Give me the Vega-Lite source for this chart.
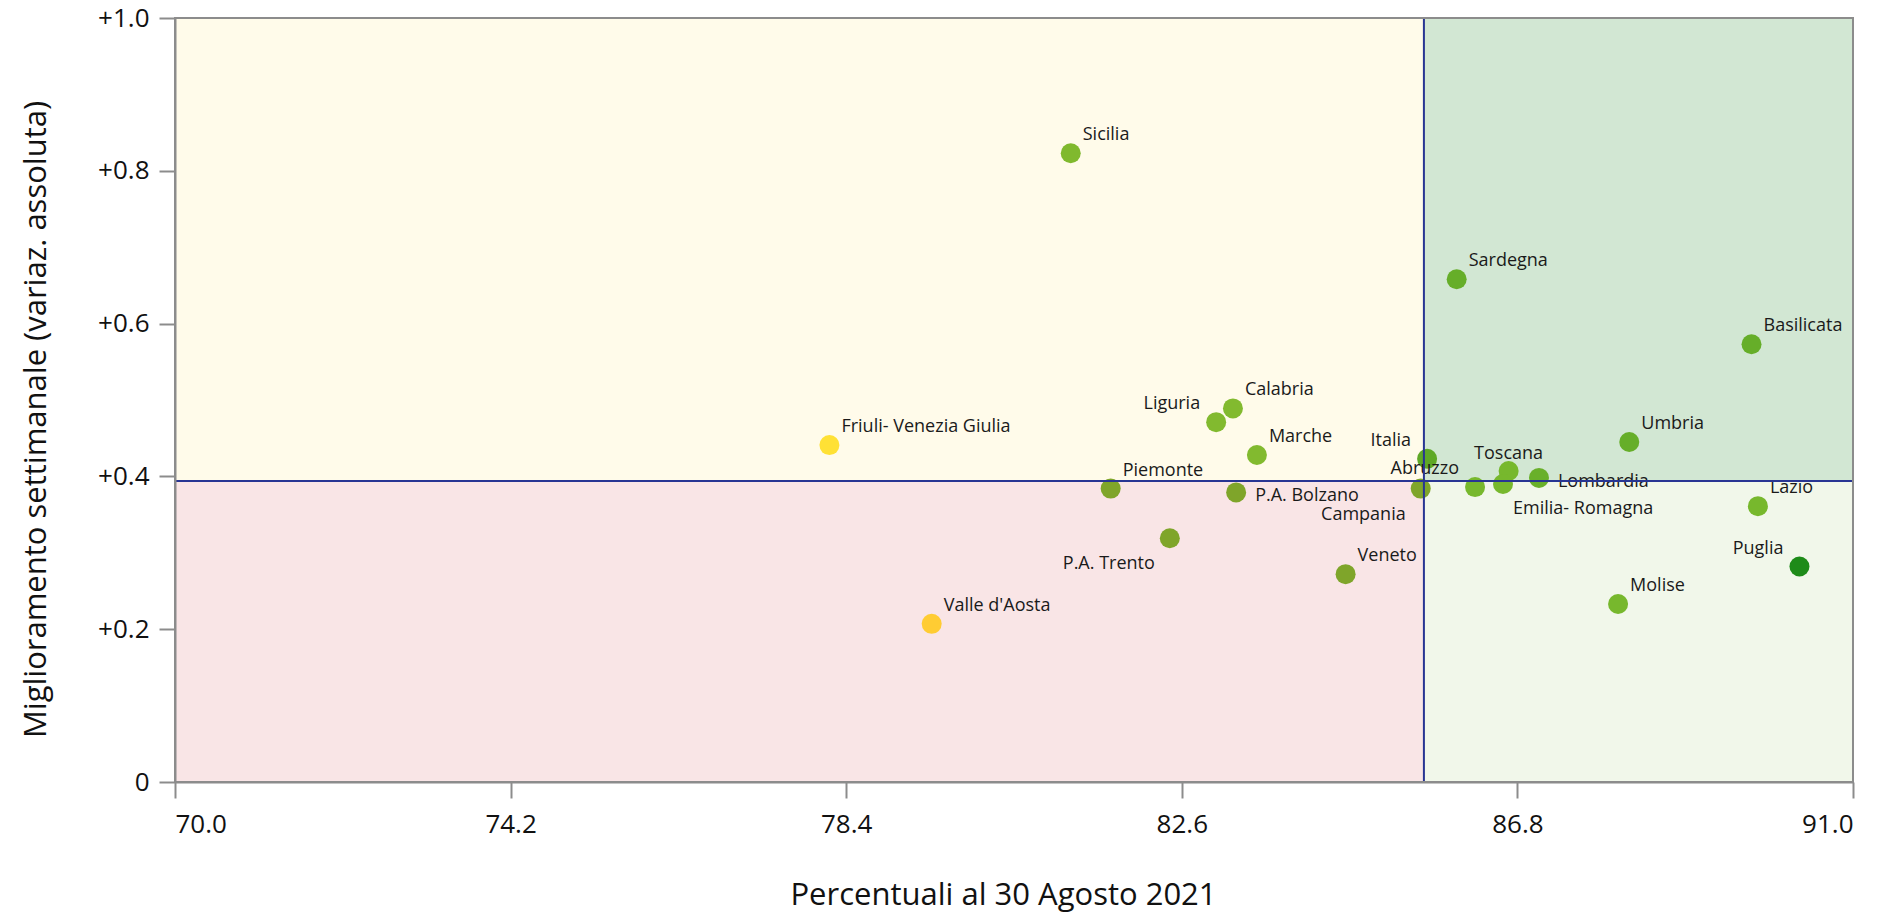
{
  "$schema": "https://vega.github.io/schema/vega-lite/v6.json",
  "width": 1678,
  "height": 764,
  "autosize": {"type": "none"},
  "padding": {"left": 175, "top": 18, "right": 32, "bottom": 134},
  "background": "white",
  "config": {
    "view": {"stroke": null},
    "font": "Open Sans",
    "text": {"font": "Open Sans"}
  },
  "datasets": {
    "punti": [
      {"regione": "Sicilia", "perc": 81.21, "migl": 0.823},
      {"regione": "Sardegna", "perc": 86.04, "migl": 0.658},
      {"regione": "Basilicata", "perc": 89.73, "migl": 0.573},
      {"regione": "Calabria", "perc": 83.24, "migl": 0.489},
      {"regione": "Liguria", "perc": 83.03, "migl": 0.471},
      {"regione": "Friuli- Venezia Giulia", "perc": 78.19, "migl": 0.441},
      {"regione": "Marche", "perc": 83.54, "migl": 0.428},
      {"regione": "Umbria", "perc": 88.20, "migl": 0.445},
      {"regione": "Toscana", "perc": 86.69, "migl": 0.407},
      {"regione": "Lombardia", "perc": 87.07, "migl": 0.398},
      {"regione": "Emilia- Romagna", "perc": 86.62, "migl": 0.390},
      {"regione": "Abruzzo", "perc": 86.27, "migl": 0.386},
      {"regione": "Campania", "perc": 85.59, "migl": 0.384},
      {"regione": "Piemonte", "perc": 81.71, "migl": 0.384},
      {"regione": "P.A. Bolzano", "perc": 83.28, "migl": 0.379},
      {"regione": "Lazio", "perc": 89.81, "migl": 0.361},
      {"regione": "P.A. Trento", "perc": 82.45, "migl": 0.319},
      {"regione": "Puglia", "perc": 90.33, "migl": 0.282},
      {"regione": "Veneto", "perc": 84.65, "migl": 0.272},
      {"regione": "Molise", "perc": 88.06, "migl": 0.233},
      {"regione": "Valle d'Aosta", "perc": 79.47, "migl": 0.207},
      {"regione": "Italia", "perc": 85.67, "migl": 0.423}
    ],
    "quadranti": [
      {"quadrante": "alto-sinistra", "x0": 70, "x1": 85.63, "y0": 0.394, "y1": 1},
      {"quadrante": "alto-destra", "x0": 85.63, "x1": 91, "y0": 0.394, "y1": 1},
      {"quadrante": "basso-sinistra", "x0": 70, "x1": 85.63, "y0": 0, "y1": 0.394},
      {"quadrante": "basso-destra", "x0": 85.63, "x1": 91, "y0": 0, "y1": 0.394}
    ],
    "soglie": [
      {"soglia_x": 85.63, "soglia_y": 0.394, "xmin": 70, "xmax": 91, "ymin": 0, "ymax": 1}
    ]
  },
  "layer": [
    {
      "data": {"name": "quadranti"},
      "mark": {"type": "rect", "strokeWidth": 0},
      "encoding": {
        "x": {"field": "x0", "type": "quantitative"},
        "x2": {"field": "x1"},
        "y": {"field": "y0", "type": "quantitative"},
        "y2": {"field": "y1"},
        "fill": {
          "field": "quadrante", "type": "nominal", "legend": null,
          "scale": {
            "domain": ["alto-sinistra", "alto-destra", "basso-sinistra", "basso-destra"],
            "range": ["#FFFBEA", "#D2E7D3", "#F9E5E6", "#F1F7EA"]
          }
        }
      }
    },
    {
      "data": {"name": "punti"},
      "mark": {"type": "circle", "size": 400, "opacity": 1},
      "encoding": {
        "x": {
          "field": "perc", "type": "quantitative",
          "scale": {"domain": [70, 91], "nice": false, "zero": false},
          "axis": {
            "values": [70, 74.2, 78.4, 82.6, 86.8, 91],
            "format": ".1f",
            "title": "Percentuali al 30 Agosto 2021",
            "grid": false,
            "zindex": 2,
            "domainColor": "#8C8C8C", "domainWidth": 2,
            "tickColor": "#8C8C8C", "tickWidth": 2, "tickSize": 16,
            "labelFont": "Open Sans", "labelFontSize": 26, "labelColor": "#111111",
            "labelPadding": 13,
            "titleFont": "Open Sans", "titleFontSize": 31, "titleFontWeight": "normal", "titleColor": "#111111",
            "titleX": 828, "titleY": 113, "titleBaseline": "middle", "titleAlign": "center"
          }
        },
        "y": {
          "field": "migl", "type": "quantitative",
          "scale": {"domain": [0, 1], "nice": false},
          "axis": {
            "values": [0, 0.2, 0.4, 0.6, 0.8, 1.0],
            "labelExpr": "datum.value == 0 ? '0' : '+' + format(datum.value, '.1f')",
            "title": "Miglioramento settimanale (variaz. assoluta)",
            "grid": false,
            "zindex": 2,
            "domainColor": "#8C8C8C", "domainWidth": 2,
            "tickColor": "#8C8C8C", "tickWidth": 2, "tickSize": 16,
            "labelFont": "Open Sans", "labelFontSize": 26, "labelColor": "#111111",
            "labelPadding": 10,
            "titleFont": "Open Sans", "titleFontSize": 31, "titleFontWeight": "normal", "titleColor": "#111111",
            "titleX": -139, "titleY": 401, "titleBaseline": "middle", "titleAlign": "center", "titleAngle": -90
          }
        },
        "color": {
          "field": "regione", "type": "nominal", "legend": null,
          "scale": {
            "domain": ["Sicilia", "Sardegna", "Basilicata", "Umbria", "Italia", "Calabria", "Liguria", "Marche", "Toscana", "Emilia- Romagna", "Abruzzo", "Lazio", "Molise", "Lombardia", "Piemonte", "P.A. Bolzano", "P.A. Trento", "Veneto", "Campania", "Puglia", "Friuli- Venezia Giulia", "Valle d'Aosta"],
            "range": ["#80B92E", "#66AE29", "#66AE29", "#66AE29", "#5FA826", "#82BA2F", "#82BA2F", "#82BA2F", "#77B82D", "#77B82D", "#77B82D", "#77B82D", "#77B82D", "#69B02A", "#7FA52A", "#7FA52A", "#7FA52A", "#7FA52A", "#7FA52A", "#1E8B19", "#FFE135", "#FFCC33"]
          }
        }
      }
    },
    {
      "data": {"name": "punti"},
      "transform": [{"filter": {"field": "regione", "oneOf": ["Sicilia", "Friuli- Venezia Giulia", "Calabria", "Marche", "Piemonte", "Veneto", "Valle d'Aosta", "Umbria", "Lazio", "Molise", "Basilicata", "Sardegna"]}}],
      "mark": {"type": "text", "align": "left", "baseline": "middle", "dx": 12, "dy": -18, "fontSize": 18, "color": "#1A1A1A"},
      "encoding": {
        "x": {"field": "perc", "type": "quantitative"},
        "y": {"field": "migl", "type": "quantitative"},
        "text": {"field": "regione"}
      }
    },
    {
      "data": {"name": "punti"},
      "transform": [{"filter": {"field": "regione", "oneOf": ["Liguria", "Italia", "Abruzzo", "Puglia"]}}],
      "mark": {"type": "text", "align": "right", "baseline": "middle", "dx": -16, "dy": -18, "fontSize": 18, "color": "#1A1A1A"},
      "encoding": {
        "x": {"field": "perc", "type": "quantitative"},
        "y": {"field": "migl", "type": "quantitative"},
        "text": {"field": "regione"}
      }
    },
    {
      "data": {"name": "punti"},
      "transform": [{"filter": {"field": "regione", "oneOf": ["P.A. Bolzano", "Lombardia"]}}],
      "mark": {"type": "text", "align": "left", "baseline": "middle", "dx": 19, "dy": 4, "fontSize": 18, "color": "#1A1A1A"},
      "encoding": {
        "x": {"field": "perc", "type": "quantitative"},
        "y": {"field": "migl", "type": "quantitative"},
        "text": {"field": "regione"}
      }
    },
    {
      "data": {"name": "punti"},
      "transform": [{"filter": {"field": "regione", "oneOf": ["Campania", "P.A. Trento"]}}],
      "mark": {"type": "text", "align": "right", "baseline": "middle", "dx": -15, "dy": 26, "fontSize": 18, "color": "#1A1A1A"},
      "encoding": {
        "x": {"field": "perc", "type": "quantitative"},
        "y": {"field": "migl", "type": "quantitative"},
        "text": {"field": "regione"}
      }
    },
    {
      "data": {"name": "punti"},
      "transform": [{"filter": {"field": "regione", "equal": "Toscana"}}],
      "mark": {"type": "text", "align": "center", "baseline": "middle", "dx": 0, "dy": -17, "fontSize": 18, "color": "#1A1A1A"},
      "encoding": {
        "x": {"field": "perc", "type": "quantitative"},
        "y": {"field": "migl", "type": "quantitative"},
        "text": {"field": "regione"}
      }
    },
    {
      "data": {"name": "punti"},
      "transform": [{"filter": {"field": "regione", "equal": "Emilia- Romagna"}}],
      "mark": {"type": "text", "align": "left", "baseline": "middle", "dx": 10, "dy": 25, "fontSize": 18, "color": "#1A1A1A"},
      "encoding": {
        "x": {"field": "perc", "type": "quantitative"},
        "y": {"field": "migl", "type": "quantitative"},
        "text": {"field": "regione"}
      }
    },
    {
      "data": {"name": "soglie"},
      "mark": {"type": "rule", "color": "#283593", "strokeWidth": 2},
      "encoding": {"x": {"field": "soglia_x", "type": "quantitative"}}
    },
    {
      "data": {"name": "soglie"},
      "mark": {"type": "rule", "color": "#283593", "strokeWidth": 2},
      "encoding": {"y": {"field": "soglia_y", "type": "quantitative"}}
    },
    {
      "data": {"name": "soglie"},
      "mark": {"type": "rect", "fill": null, "stroke": "#8C8C8C", "strokeWidth": 2},
      "encoding": {
        "x": {"field": "xmin", "type": "quantitative"},
        "x2": {"field": "xmax"},
        "y": {"field": "ymin", "type": "quantitative"},
        "y2": {"field": "ymax"}
      }
    }
  ]
}
